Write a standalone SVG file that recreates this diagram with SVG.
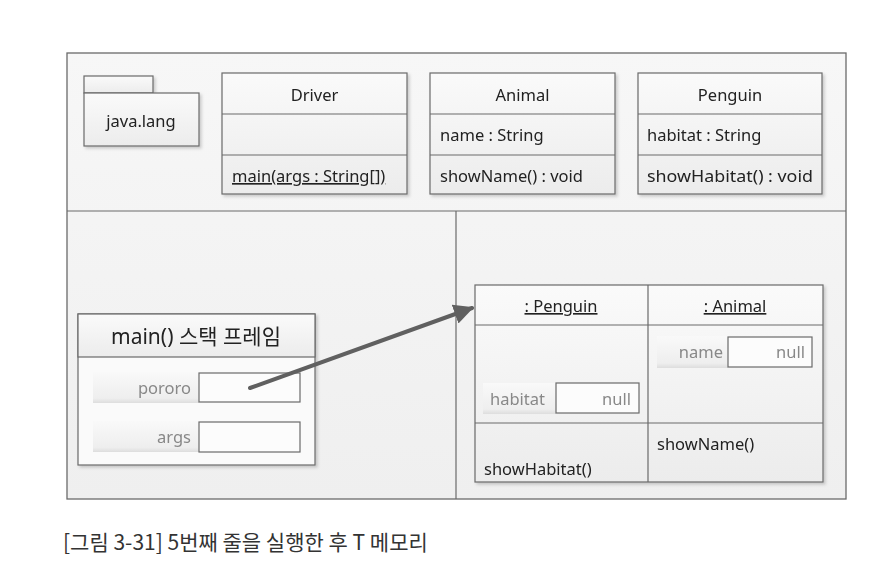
<svg xmlns="http://www.w3.org/2000/svg" width="872" height="576" viewBox="0 0 872 576">
<defs>
<linearGradient id="bg" x1="0" y1="0" x2="0" y2="1"><stop offset="0" stop-color="#f7f7f7"/><stop offset="1" stop-color="#efefef"/></linearGradient>
<linearGradient id="cell" x1="0" y1="0" x2="0" y2="1"><stop offset="0" stop-color="#fafafa"/><stop offset="1" stop-color="#ececec"/></linearGradient>
<linearGradient id="lab" x1="0" y1="0" x2="0" y2="1"><stop offset="0" stop-color="#f9f9f9"/><stop offset="0.85" stop-color="#eeeeee"/><stop offset="1" stop-color="#dddddd"/></linearGradient>
<filter id="sh" x="-5%" y="-5%" width="115%" height="115%"><feDropShadow dx="2" dy="2" stdDeviation="1.5" flood-color="#000" flood-opacity="0.18"/></filter>
<marker id="ah" viewBox="0 0 10 10" refX="9" refY="5" markerWidth="5" markerHeight="5" orient="auto" markerUnits="strokeWidth"><path d="M0,0 L10,5 L0,10 z" fill="#606060"/></marker>
</defs>
<style>
.t{font-family:"Noto Sans","Noto Sans CJK KR",sans-serif;font-size:16.5px;fill:#222}
.g{fill:#888}
.c{text-anchor:middle}
.r{text-anchor:end}
.box{fill:url(#cell);stroke:#6a6a6a;stroke-width:1.2}
.ln{stroke:#6a6a6a;stroke-width:1.2;fill:none}
.vb{fill:#fcfcfc;stroke:#6a6a6a;stroke-width:1.2}
.lb{fill:url(#lab)}
</style>
<rect width="872" height="576" fill="#fff"/>
<g id="frame">
<rect x="67" y="53" width="779" height="446" fill="url(#bg)" stroke="#6a6a6a" stroke-width="1.3"/>
<line class="ln" x1="67" y1="211" x2="846" y2="211"/>
<line class="ln" x1="456" y1="211" x2="456" y2="499"/>
</g>
<g id="pkg" filter="url(#sh)">
<rect class="box" x="84" y="76" width="69" height="17"/>
<rect class="box" x="84" y="93" width="115" height="53"/>
<text class="t c" x="141" y="127">java.lang</text>
</g>
<g id="driver" filter="url(#sh)">
<rect class="box" x="222" y="73" width="185" height="121"/>
<line class="ln" x1="222" y1="114" x2="407" y2="114"/>
<line class="ln" x1="222" y1="155" x2="407" y2="155"/>
<text class="t c" x="314.5" y="101">Driver</text>
<text class="t" x="232" y="182" text-decoration="underline">main(args : String[])</text>
</g>
<g id="animal" filter="url(#sh)">
<rect class="box" x="430" y="73" width="185" height="121"/>
<line class="ln" x1="430" y1="114" x2="615" y2="114"/>
<line class="ln" x1="430" y1="155" x2="615" y2="155"/>
<text class="t c" x="522.5" y="101">Animal</text>
<text class="t" x="440" y="141">name : String</text>
<text class="t" x="440" y="182">showName() : void</text>
</g>
<g id="penguin" filter="url(#sh)">
<rect class="box" x="638" y="73" width="184" height="121"/>
<line class="ln" x1="638" y1="114" x2="822" y2="114"/>
<line class="ln" x1="638" y1="155" x2="822" y2="155"/>
<text class="t c" x="730" y="101">Penguin</text>
<text class="t" x="647" y="141">habitat : String</text>
<text class="t" x="647" y="182" textLength="166" lengthAdjust="spacingAndGlyphs">showHabitat() : void</text>
</g>
<g id="stack" filter="url(#sh)">
<rect x="78" y="314" width="237" height="151" fill="#fafafa" stroke="#6a6a6a" stroke-width="1.2"/>
<rect x="78" y="314" width="237" height="43" fill="url(#cell)" stroke="#6a6a6a" stroke-width="1.2"/>
<text class="t c" x="196" y="344" style="font-size:21px">main() 스택 프레임</text>
<rect class="lb" x="93" y="372" width="106" height="31"/>
<text class="t r g" x="191" y="394">pororo</text>
<rect class="vb" x="199" y="373" width="101" height="29"/>
<rect class="lb" x="93" y="421" width="106" height="31"/>
<text class="t r g" x="191" y="443">args</text>
<rect class="vb" x="199" y="422" width="101" height="30"/>
</g>
<g id="obj" filter="url(#sh)">
<rect x="475" y="285" width="348" height="197" fill="url(#cell)" stroke="#6a6a6a" stroke-width="1.2"/>
<line class="ln" x1="648" y1="285" x2="648" y2="482"/>
<line class="ln" x1="475" y1="325" x2="823" y2="325"/>
<line class="ln" x1="475" y1="423" x2="823" y2="423"/>
<text class="t c" x="561" y="312" text-decoration="underline">: Penguin</text>
<text class="t c" x="735" y="312" text-decoration="underline">: Animal</text>
<rect class="lb" x="483" y="383" width="73" height="31"/>
<text class="t g" x="490" y="405">habitat</text>
<rect class="vb" x="556" y="383" width="83" height="30"/>
<text class="t r g" x="631" y="405">null</text>
<rect class="lb" x="657" y="336" width="71" height="32"/>
<text class="t r g" x="723" y="358">name</text>
<rect class="vb" x="728" y="337" width="84" height="30"/>
<text class="t r g" x="805" y="358">null</text>
<text class="t" x="657" y="450">showName()</text>
<text class="t" x="484" y="475">showHabitat()</text>
</g>
<g id="connectors">
<line x1="250" y1="388" x2="472" y2="308" stroke="#606060" stroke-width="4" stroke-linecap="round" marker-end="url(#ah)"/>
</g>
<text x="63" y="550" style="font-family:'Noto Sans CJK KR','Noto Sans',sans-serif;font-size:21px;fill:#333">[그림 3-31] 5번째 줄을 실행한 후 T 메모리</text>
</svg>
